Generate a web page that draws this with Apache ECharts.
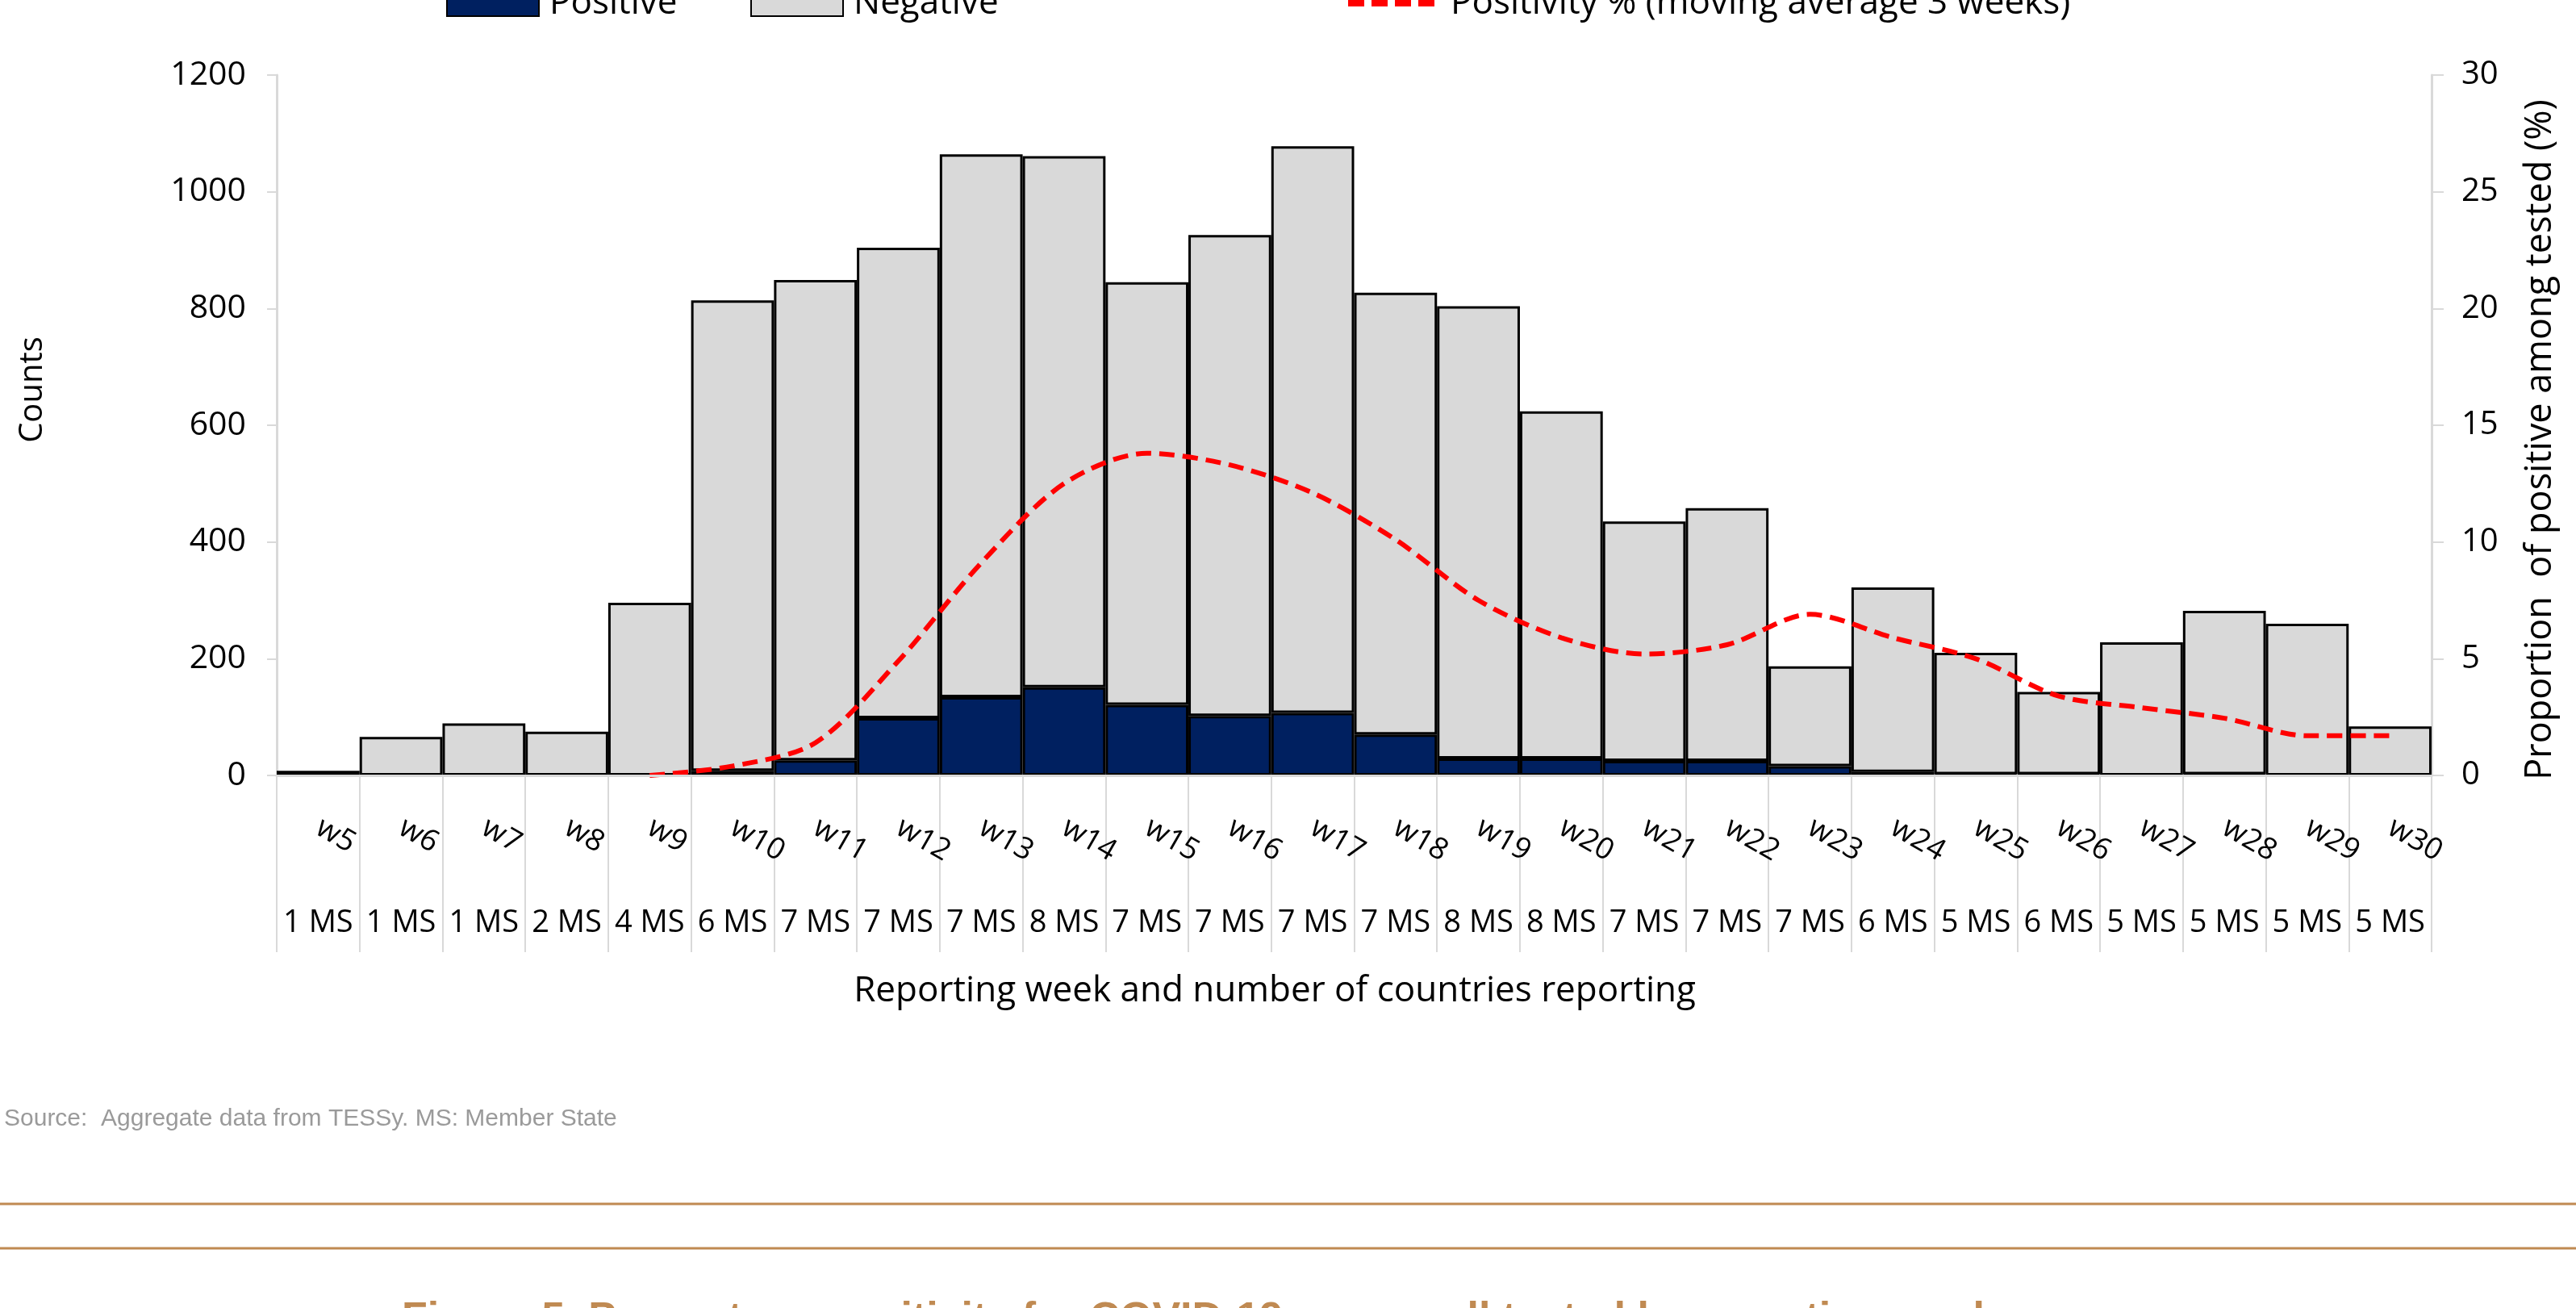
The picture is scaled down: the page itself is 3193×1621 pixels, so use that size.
<!DOCTYPE html>
<html><head><meta charset="utf-8">
<script src="https://cdn.jsdelivr.net/npm/echarts@6/dist/echarts.min.js"></script>
<style>html,body{margin:0;padding:0;background:#fff;}#c{width:3193px;height:1621px;}</style>
</head><body><div id="c"></div>
<script>
// ---- data ----
const weeks = ['w5','w6','w7','w8','w9','w10','w11','w12','w13','w14','w15','w16','w17','w18','w19','w20','w21','w22','w23','w24','w25','w26','w27','w28','w29','w30'];
const reporting = ['1 MS','1 MS','1 MS','2 MS','4 MS','6 MS','7 MS','7 MS','7 MS','8 MS','7 MS','7 MS','7 MS','7 MS','8 MS','8 MS','7 MS','7 MS','7 MS','6 MS','5 MS','6 MS','5 MS','5 MS','5 MS','5 MS'];
const positive = ['-','-','-','-','-',8,26,98,134,151,121,102,107,70,29,29,25,25,16,6,2,2,'-',2,'-','-'];
const negative = [8,66,89,75,296,806,823,806,930,910,724,824,971,757,775,595,410,433,171,316,208,141,228,280,260,84];
const positivity = [null,null,null,null,0,0.4,1.4,4.9,9.1,12.5,13.8,13.3,12.1,10.1,7.5,5.9,5.2,5.6,6.9,5.9,5.0,3.4,2.9,2.45,1.7,1.7];
const leftTicks = {min:0, max:1200, interval:200};
const rightTicks = {min:0, max:30, interval:5};
const names = {
  pos:'Positive', neg:'Negative', line:'Positivity % (moving average 3 weeks)',
  yLeft:'Counts', yRight:'Proportion  of positive among tested (%)',
  x:'Reporting week and number of countries reporting',
  source:'Source:  Aggregate data from TESSy. MS: Member State',
  title:'Figure 5. Percentage positivity for COVID-19 among all tested by reporting week'
};

const FF = 'Open Sans';
const chart = echarts.init(document.getElementById('c'), null, {renderer:'canvas'});
const legendBase = {
  orient:'horizontal', top:-18, padding:0, itemWidth:114, itemHeight:32,
  selectedMode:false,
  textStyle:{fontSize:44, color:'#000', fontFamily:FF, padding:[0,0,0,8]}
};
chart.setOption({
  animation:false,
  backgroundColor:'#fff',
  grid:{left:343, right:179, top:93, bottom:660, containLabel:false},
  legend:[
    Object.assign({}, legendBase, {left:553, data:[{name:names.pos, icon:'rect'}]}),
    Object.assign({}, legendBase, {left:930, data:[{name:names.neg, icon:'rect'}]}),
    Object.assign({}, legendBase, {left:1667, data:[{name:names.line,
      itemStyle:{opacity:0}, lineStyle:{color:'#ff0000', width:8, type:[20,9]}}]})
  ],
  xAxis:[
    {type:'category', data:weeks, position:'bottom', z:10, boundaryGap:true,
     axisLine:{show:true, lineStyle:{color:'#d9d9d9', width:3}},
     axisTick:{show:true, length:219, interval:0, lineStyle:{color:'#d9d9d9', width:2}},
     axisLabel:{interval:0, rotate:-30, margin:62, fontSize:37, color:'#000', fontFamily:FF},
     splitLine:{show:false}},
    {type:'category', data:weeks, position:'bottom', boundaryGap:true,
     axisLine:{show:false}, axisTick:{show:false}, splitLine:{show:false},
     axisLabel:{interval:0, margin:164, fontSize:38, color:'#000', fontFamily:FF,
       formatter:(v, i) => reporting[i]}}
  ],
  yAxis:[
    {type:'value', position:'left', min:leftTicks.min, max:leftTicks.max, interval:leftTicks.interval,
     axisLine:{show:true, lineStyle:{color:'#d9d9d9', width:3}},
     axisTick:{show:true, length:12, lineStyle:{color:'#d9d9d9', width:2}},
     axisLabel:{margin:38, fontSize:41, color:'#000', fontFamily:FF, formatter:v => String(v)},
     splitLine:{show:false}},
    {type:'value', position:'right', min:rightTicks.min, max:rightTicks.max, interval:rightTicks.interval,
     axisLine:{show:true, lineStyle:{color:'#d9d9d9', width:3}},
     axisTick:{show:true, length:15, lineStyle:{color:'#d9d9d9', width:2}},
     axisLabel:{margin:37, fontSize:40, color:'#000', fontFamily:FF, formatter:v => String(v)},
     splitLine:{show:false}}
  ],
  series:[
    {name:names.pos, type:'bar', stack:'t', data:positive, barCategoryGap:'0%', barWidth:'100%',
     itemStyle:{color:'#002060', borderColor:'#000', borderWidth:3}, z:2},
    {name:names.neg, type:'bar', stack:'t', data:negative, barCategoryGap:'0%', barWidth:'100%',
     itemStyle:{color:'#d9d9d9', borderColor:'#000', borderWidth:3}, z:2},
    {name:names.line, type:'line', yAxisIndex:1, data:positivity, symbol:'none', smooth:0.3,
     connectNulls:false, z:5,
     lineStyle:{color:'#ff0000', width:6, type:[19,10]}, itemStyle:{color:'#ff0000'}}
  ],
  graphic:[
    {type:'text', x:41, y:483, rotation:Math.PI/2,
     style:{text:names.yLeft, fontSize:40, fontFamily:FF, fill:'#000', align:'center', verticalAlign:'middle'}},
    {type:'text', x:3149, y:545, rotation:Math.PI/2,
     style:{text:names.yRight, fontSize:45, fontFamily:FF, fill:'#000', align:'center', verticalAlign:'middle'}},
    {type:'text', x:1580, y:1228,
     style:{text:names.x, fontSize:44, fontFamily:FF, fill:'#000', align:'center', verticalAlign:'middle'}},
    {type:'text', x:5, y:1387,
     style:{text:names.source, fontSize:30, fontFamily:'Liberation Sans', fill:'#9a9a9a', align:'left', verticalAlign:'middle'}},
    {type:'line', shape:{x1:0, y1:1492, x2:3193, y2:1492}, style:{stroke:'#c08a52', lineWidth:3}},
    {type:'line', shape:{x1:0, y1:1547, x2:3193, y2:1547}, style:{stroke:'#c08a52', lineWidth:3}},
    {type:'text', x:498, y:1636,
     style:{text:names.title, fontSize:52, fontWeight:'bold', fontFamily:'Liberation Sans', fill:'#c08a52', align:'left', verticalAlign:'middle'}}
  ]
});
</script>
</body></html>
